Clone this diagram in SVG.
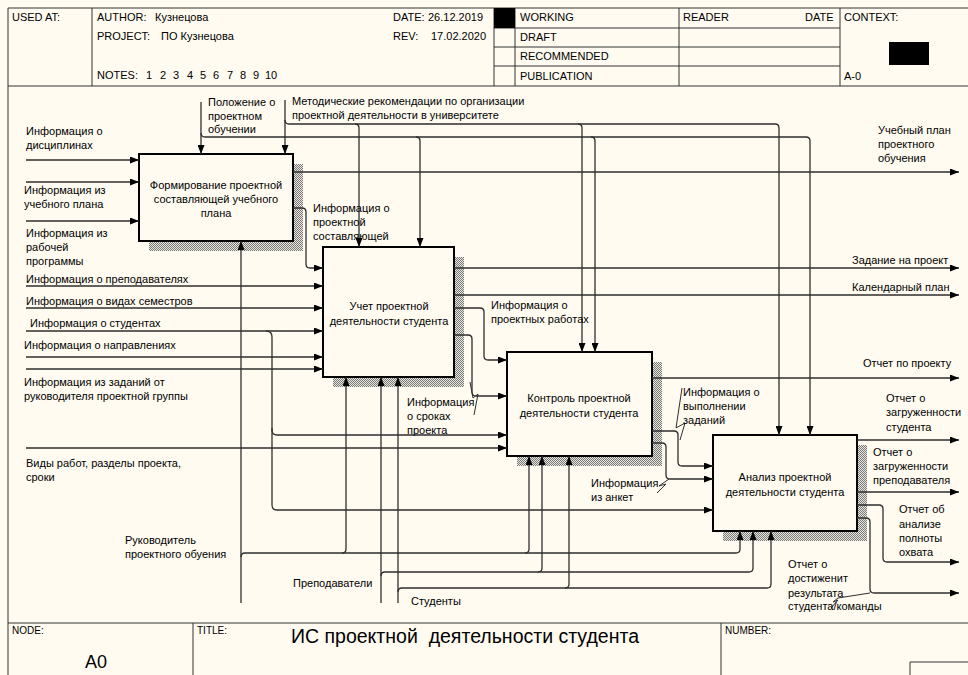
<svg xmlns="http://www.w3.org/2000/svg" width="968" height="675" viewBox="0 0 968 675">
<defs>
<pattern id="hatch" width="2" height="2" patternUnits="userSpaceOnUse">
<rect width="2" height="2" fill="#e8e6dc"/>
<rect x="0" y="0" width="1" height="1" fill="#7a7a7a"/>
<rect x="1" y="1" width="1" height="1" fill="#7a7a7a"/>
</pattern>
<marker id="ah" markerWidth="9" markerHeight="7" refX="9" refY="3.5" orient="auto" markerUnits="userSpaceOnUse">
<path d="M0,0 L9,3.5 L0,7 z" fill="#000"/>
</marker>
<style>
text{font-family:"Liberation Sans",Arial,sans-serif;font-size:11px;fill:#000}
.c{text-anchor:middle}
.fr{stroke:#333;stroke-width:1;fill:none}
.ln{stroke:#2e2e2e;stroke-width:1.3;fill:none}
.ar{marker-end:url(#ah)}
.box{fill:#fffbf0;stroke:#000;stroke-width:2}
.sh{fill:url(#hatch)}
.sq{stroke:#2e2e2e;stroke-width:1;fill:none}
</style>
</defs>
<rect width="968" height="675" fill="#fffbf0"/>

<g id="frame">
<path class="fr" d="M8,8 H968 M8,8 V675 M8,86 H968 M8,623 H968 M92,8 V86 M494,8 V86 M515,8 V86 M679,8 V86 M840,8 V86 M494,28 H840 M494,47 H840 M494,66 H840 M193,623 V675 M721,623 V675 M910,675 V662 H968"/>
<rect x="494" y="8" width="21" height="20" fill="#000"/>
<rect x="889" y="42" width="40" height="23" fill="#000"/>
<text x="12" y="21">USED AT:</text>
<text x="97" y="21">AUTHOR:</text>
<text x="155" y="21">Кузнецова</text>
<text x="97" y="40">PROJECT:</text>
<text x="161" y="40">ПО Кузнецова</text>
<text y="79"><tspan x="97">NOTES:</tspan><tspan x="146">1</tspan><tspan x="160">2</tspan><tspan x="173">3</tspan><tspan x="187">4</tspan><tspan x="200">5</tspan><tspan x="213">6</tspan><tspan x="227">7</tspan><tspan x="240">8</tspan><tspan x="253">9</tspan><tspan x="265">10</tspan></text>
<text x="393" y="21">DATE:</text>
<text x="428" y="21">26.12.2019</text>
<text x="393" y="40">REV:</text>
<text x="431" y="40">17.02.2020</text>
<text x="520" y="21">WORKING</text>
<text x="520" y="41">DRAFT</text>
<text x="520" y="60">RECOMMENDED</text>
<text x="520" y="80">PUBLICATION</text>
<text x="683" y="21">READER</text>
<text x="805" y="21">DATE</text>
<text x="844" y="21">CONTEXT:</text>
<text x="844" y="80">A-0</text>
<text x="12" y="634" style="font-size:10px">NODE:</text>
<text x="197" y="634" style="font-size:10px">TITLE:</text>
<text x="725" y="634" style="font-size:10px">NUMBER:</text>
<text x="291" y="643" style="font-size:19.5px;white-space:pre">ИС проектной  деятельности студента</text>
<text x="85" y="668" style="font-size:18px">A0</text>
</g>

<g id="node-A1">
<rect class="sh" x="149" y="164" width="154" height="87"/>
<rect class="box" x="139" y="154" width="154" height="87"/>
<text class="c" x="216" y="189">Формирование проектной</text>
<text class="c" x="216" y="203">составляющей учебного</text>
<text class="c" x="216" y="217">плана</text>
</g>
<g id="node-A2">
<rect class="sh" x="333" y="257" width="131" height="130"/>
<rect class="box" x="323" y="247" width="131" height="130"/>
<text class="c" x="389" y="310">Учет проектной</text>
<text class="c" x="389" y="325">деятельности студента</text>
</g>
<g id="node-A3">
<rect class="sh" x="517" y="362" width="145" height="104"/>
<rect class="box" x="507" y="352" width="145" height="104"/>
<text class="c" x="579" y="402">Контроль проектной</text>
<text class="c" x="579" y="417">деятельности студента</text>
</g>
<g id="node-A4">
<rect class="sh" x="723" y="445" width="144" height="96"/>
<rect class="box" x="713" y="435" width="144" height="96"/>
<text class="c" x="785" y="481">Анализ проектной</text>
<text class="c" x="785" y="496">деятельности студента</text>
</g>

<g id="connectors">
<path class="ln ar" d="M26,160 H139"/>
<path class="ln ar" d="M26,182 H139"/>
<path class="ln ar" d="M26,221 H139"/>
<path class="ln ar" d="M26,286 H323"/>
<path class="ln ar" d="M26,308 H323"/>
<path class="ln ar" d="M26,331 H323"/>
<path class="ln ar" d="M26,357 H323"/>
<path class="ln ar" d="M26,369 H323"/>
<path class="ln ar" d="M293,208 H302 Q306,208 306,212 V264 Q306,268 310,268 H323"/>
<path class="ln ar" d="M266,331 Q272,331 272,337 V430 Q272,435 277,435 H507"/>
<path class="ln ar" d="M272,428 V505 Q272,510 277,510 H713"/>
<path class="ln ar" d="M26,448 H507"/>
<path class="ln ar" d="M293,172 H959"/>
<path class="ln ar" d="M454,268 H959"/>
<path class="ln ar" d="M454,295 H959"/>
<path class="ln ar" d="M454,308 H480 Q484,308 484,312 V356 Q484,360 488,360 H507"/>
<path class="ln ar" d="M454,335 H468 Q472,335 472,339 V392 Q472,396 476,396 H507"/>
<path class="ln ar" d="M652,378 H959"/>
<path class="ln ar" d="M652,431 H674 Q678,431 678,435 V462 Q678,466 682,466 H713"/>
<path class="ln ar" d="M652,443 H662 Q666,443 666,447 V475 Q666,479 670,479 H713"/>
<path class="ln ar" d="M857,440 H959"/>
<path class="ln ar" d="M857,492 H959"/>
<path class="ln ar" d="M857,505 H879 Q883,505 883,509 V558 Q883,562 887,562 H959"/>
<path class="ln ar" d="M857,518 H866 Q870,518 870,522 V589 Q870,593 874,593 H959"/>
<path class="ln ar" d="M201,102 V154"/>
<path class="ln ar" d="M201,133 Q201,137 205,137 H806 Q810,137 810,141 V435"/>
<path class="ln ar" d="M416,137 Q420,137 420,141 V247"/>
<path class="ln ar" d="M591,137 Q595,137 595,141 V352"/>
<path class="ln ar" d="M285,100 V154"/>
<path class="ln ar" d="M285,120 Q285,124 289,124 H775 Q779,124 779,128 V435"/>
<path class="ln ar" d="M355,124 Q359,124 359,128 V247"/>
<path class="ln ar" d="M578,124 Q582,124 582,128 V352"/>
<path class="ln ar" d="M241,603 V241"/>
<path class="ln ar" d="M241,557 Q241,553 245,553 H736 Q740,553 740,549 V531"/>
<path class="ln ar" d="M342,553 Q346,553 346,549 V377"/>
<path class="ln ar" d="M525,553 Q529,553 529,549 V456"/>
<path class="ln ar" d="M381,603 V377"/>
<path class="ln ar" d="M381,576 Q381,572 385,572 H749 Q753,572 753,568 V531"/>
<path class="ln ar" d="M538,572 Q542,572 542,568 V456"/>
<path class="ln ar" d="M398,603 V377"/>
<path class="ln ar" d="M398,592 Q398,588 402,588 H767 Q771,588 771,584 V531"/>
<path class="ln ar" d="M565,588 Q569,588 569,584 V456"/>
<polyline class="sq" points="470,382 473,398 478,394 474,415"/>
<polyline class="sq" points="682,388 676,428 685,423 680,440"/>
<polyline class="sq" points="669,479 659,486 666,484 657,493"/>
<polyline class="sq" points="870,593 838,598 833,602 838,600 831,608"/>
</g>

<g id="labels">
<text x="208" y="106">Положение о</text>
<text x="208" y="120">проектном</text>
<text x="208" y="133">обучении</text>
<text x="292" y="105">Методические рекомендации по организации</text>
<text x="292" y="119">проектной деятельности в университете</text>
<text x="26" y="135">Информация о</text>
<text x="26" y="149">дисциплинах</text>
<text x="24" y="194">Информация из</text>
<text x="24" y="208">учебного плана</text>
<text x="26" y="237">Информация из</text>
<text x="26" y="251">рабочей</text>
<text x="26" y="265">программы</text>
<text x="313" y="212">Информация о</text>
<text x="313" y="226">проектной</text>
<text x="313" y="240">составляющей</text>
<text x="878" y="134">Учебный план</text>
<text x="878" y="148">проектного</text>
<text x="878" y="162">обучения</text>
<text x="852" y="264">Задание на проект</text>
<text x="852" y="291">Календарный план</text>
<text x="26" y="283">Информация о преподавателях</text>
<text x="26" y="305">Информация о видах семестров</text>
<text x="30" y="327">Информация о студентах</text>
<text x="24" y="349">Информация о направлениях</text>
<text x="24" y="386">Информация из заданий от</text>
<text x="24" y="400">руководителя проектной группы</text>
<text x="26" y="467">Виды работ, разделы проекта,</text>
<text x="26" y="481">сроки</text>
<text x="491" y="309">Информация о</text>
<text x="491" y="323">проектных работах</text>
<text x="407" y="406">Информация</text>
<text x="407" y="420">о сроках</text>
<text x="407" y="434">проекта</text>
<text x="863" y="367">Отчет по проекту</text>
<text x="683" y="396">Информация о</text>
<text x="683" y="410">выполнении</text>
<text x="683" y="424">заданий</text>
<text x="886" y="402">Отчет о</text>
<text x="886" y="416">загруженности</text>
<text x="886" y="431">студента</text>
<text x="873" y="456">Отчет о</text>
<text x="873" y="470">загруженности</text>
<text x="873" y="484">преподавателя</text>
<text x="591" y="487">Информация</text>
<text x="591" y="501">из анкет</text>
<text x="899" y="513">Отчет об</text>
<text x="899" y="528">анализе</text>
<text x="899" y="542">полноты</text>
<text x="899" y="556">охвата</text>
<text x="788" y="568">Отчет о</text>
<text x="788" y="582">достиженит</text>
<text x="788" y="597">результата</text>
<text x="788" y="610">студента/команды</text>
<text x="125" y="544">Руководитель</text>
<text x="125" y="558">проектного обуения</text>
<text x="293" y="587">Преподаватели</text>
<text x="411" y="605">Студенты</text>
</g>
</svg>
